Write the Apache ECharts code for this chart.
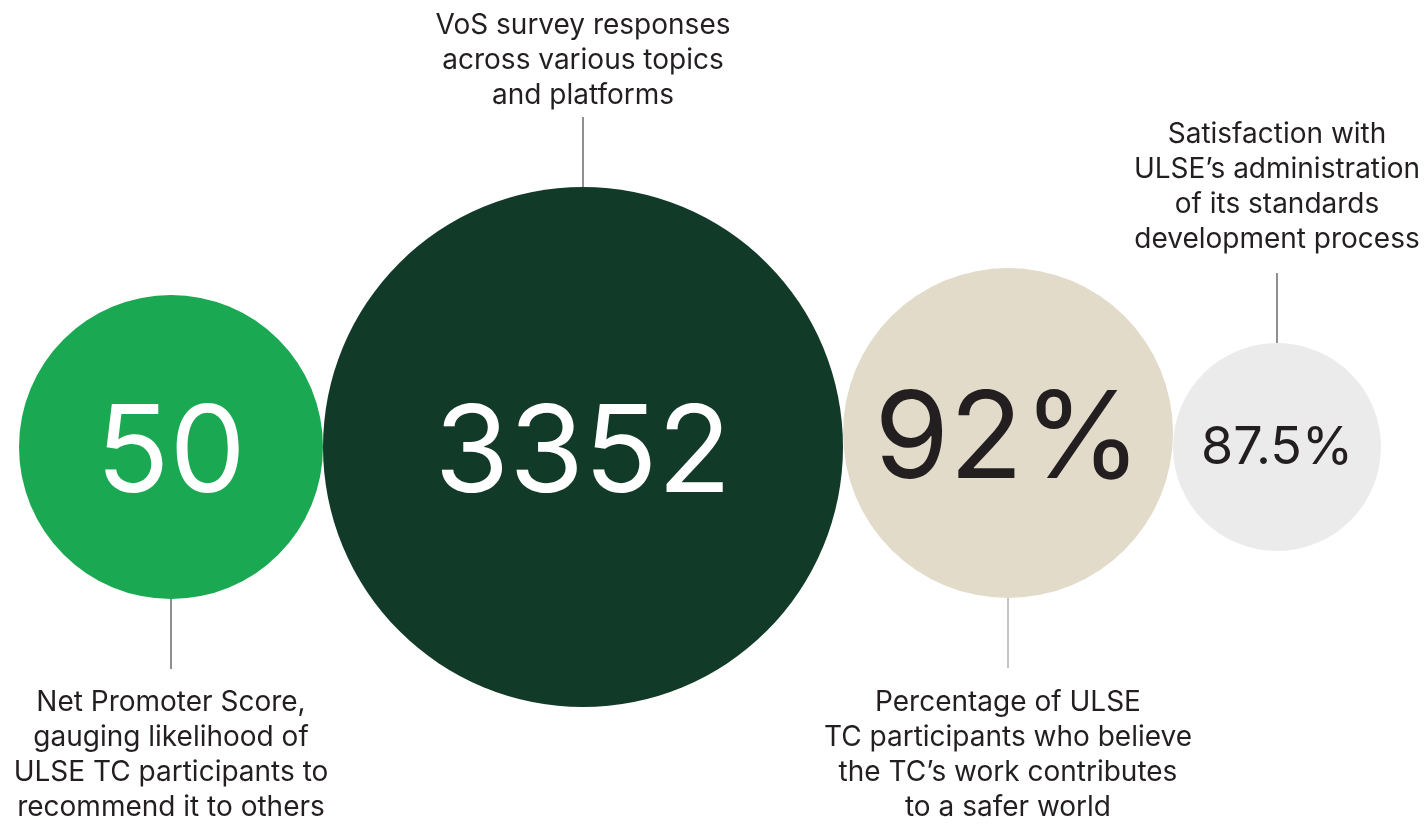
<!DOCTYPE html>
<html>
<head>
<meta charset="utf-8">
<script src="https://cdn.jsdelivr.net/npm/echarts@6/dist/echarts.min.js"></script>
<style>
  html, body { margin: 0; padding: 0; background: #ffffff; }
  #chart { width: 1424px; height: 825px; }
</style>
</head>
<body>
<div id="chart"></div>
<script>
// ---- data ----
const metrics = ['Net Promoter Score', 'VoS survey responses', 'TC contributes to a safer world', 'Satisfaction with administration'];
const values = [50, 3352, 92, 87.5];
const valueUnits = ['', '', '%', '%'];
const descriptions = [
  'Net Promoter Score,\ngauging likelihood of\nULSE TC participants to\nrecommend it to others',
  'VoS survey responses\nacross various topics\nand platforms',
  'Percentage of ULSE\nTC participants who believe\nthe TC\u2019s work contributes\nto a safer world',
  'Satisfaction with\nULSE\u2019s administration\nof its standards\ndevelopment process'
];
const descriptionSide = ['below', 'above', 'below', 'above'];

// ---- style / layout ----
const radii = [152, 260, 165, 104];
const fills = ['#1ba852', '#123a28', '#e2dbc9', '#ebebeb'];
const numberColors = ['#ffffff', '#ffffff', '#231f20', '#231f20'];
const numberSizes = [121, 121, 121, 52];
const numberDy = [9, 9, 9, 1];
const yShift = [0, 0, -14, 0];
const leaderColors = ['#231f20', '#231f20', '#8c8c8c', '#231f20'];
const textGaps = [16, 4, 17, 16];
const leaderLen = 70;
const startLeft = 19;
const baseY = 447;
const FONT = 'Inter, "Noto Sans", sans-serif';

// pack circles side by side (tangent), computing centres from radii
const centresX = [];
let cursor = startLeft;
radii.forEach(function (r) { centresX.push(cursor + r); cursor += 2 * r; });
const seriesData = metrics.map(function (m, i) {
  return { name: m, value: [centresX[i], baseY + yShift[i], values[i], i] };
});

const chart = echarts.init(document.getElementById('chart'), null, { renderer: 'canvas' });
chart.setOption({
  animation: false,
  backgroundColor: '#ffffff',
  grid: { left: 0, right: 0, top: 0, bottom: 0 },
  xAxis: { type: 'value', min: 0, max: 1424, show: false },
  yAxis: { type: 'value', min: 0, max: 825, inverse: true, show: false },
  series: [{
    type: 'custom',
    coordinateSystem: 'cartesian2d',
    data: seriesData,
    encode: { x: 0, y: 1 },
    renderItem: function (params, api) {
      const i = api.value(3);
      const c = api.coord([api.value(0), api.value(1)]);
      const r = api.size([radii[i], 0])[0];
      const label = String(values[i]) + valueUnits[i];
      const children = [
        { type: 'circle', shape: { cx: c[0], cy: c[1], r: r }, style: { fill: fills[i] } },
        { type: 'text', style: {
            text: label, x: c[0], y: c[1] + numberDy[i], align: 'center', verticalAlign: 'middle',
            fontSize: numberSizes[i], fontFamily: FONT, fontWeight: 400, fill: numberColors[i] } }
      ];
      const below = descriptionSide[i] === 'below';
      const y0 = below ? c[1] + r : c[1] - r;
      const y1 = below ? y0 + leaderLen : y0 - leaderLen;
      children.push({ type: 'line', shape: { x1: c[0], y1: y0, x2: c[0], y2: y1 },
        style: { stroke: leaderColors[i], lineWidth: 1 } });
      children.push({ type: 'text', style: {
        text: descriptions[i], x: c[0], y: below ? y1 + textGaps[i] : y1 - textGaps[i],
        align: 'center', verticalAlign: below ? 'top' : 'bottom',
        fontSize: 28, lineHeight: 35, fontFamily: FONT, fill: '#231f20' } });
      return { type: 'group', children: children };
    }
  }]
});
</script>
</body>
</html>
